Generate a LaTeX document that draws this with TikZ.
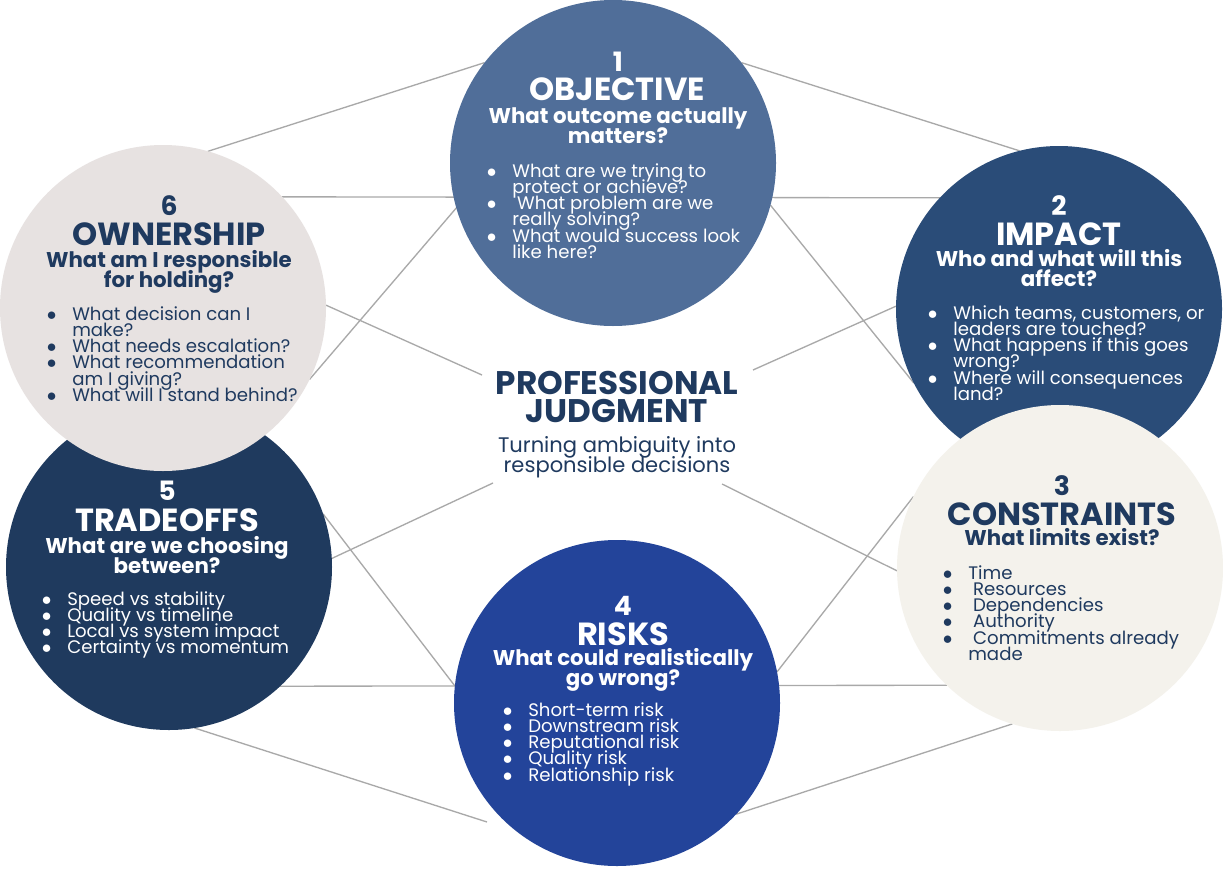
\documentclass[tikz,border=0pt]{standalone}
\usepackage{fontspec}
\setmainfont{Poppins}
\usetikzlibrary{backgrounds}

\definecolor{objblue}{HTML}{506E99}
\definecolor{impblue}{HTML}{2A4C78}
\definecolor{concream}{HTML}{F4F2EC}
\definecolor{riskblue}{HTML}{23449A}
\definecolor{tradenavy}{HTML}{1F3A5E}
\definecolor{owngray}{HTML}{E7E2E1}
\definecolor{inknavy}{HTML}{1F3A5F}
\definecolor{linegray}{HTML}{A9A9A9}

% tight lines, as in the picture
\lineskiplimit=-100pt
\lineskip=0pt

\newcommand{\bul}{\makebox[19pt][l]{$\bullet$}}
\newcommand{\cnt}{\hspace*{19pt}}

\tikzset{
  bubble/.style={circle, minimum size=244.5pt, inner sep=0pt, outer sep=0pt},
  numtxt/.style={anchor=base, inner sep=0pt, font=\fontsize{20}{22}\selectfont\bfseries},
  titletxt/.style={anchor=base, inner sep=0pt, font=\fontsize{24}{24}\selectfont\bfseries},
  asktxt/.style={anchor=north, inner sep=0pt, align=center, font=\fontsize{16}{15}\selectfont\bfseries},
  listtxt/.style={anchor=north west, inner sep=0pt, align=left, font=\fontsize{13.6}{12.2}\selectfont},
  spoke/.style={draw=linegray, line width=1pt}
}

\begin{document}
\begin{tikzpicture}[x=0.75pt, y=-0.75pt]
  \useasboundingbox (0,0) rectangle (1223,874);

  % The six circles
  \node[bubble, fill=objblue] (obj) at (613,163) {};
  \node[bubble, fill=impblue] (imp) at (1059,309) {};
  \node[bubble, fill=concream] (con) at (1060,568) {};
  \node[bubble, fill=riskblue] (risk) at (617,703) {};
  \node[bubble, fill=tradenavy] (trade) at (169,567) {};
  \node[bubble, fill=owngray] (own) at (163,308) {};

  % Free ends around the centre text
  \coordinate (hubnw) at (482,375);
  \coordinate (hubne) at (753,370);
  \coordinate (hubsw) at (493,483);
  \coordinate (hubse) at (722,484);
  \coordinate (botw) at (487,822);

  % 1 Objective
  \node[numtxt, text=white] (objnum) at (618,72) {1};
  \node[titletxt, text=white] (objtitle) at (617,100) {OBJECTIVE};
  \node[asktxt, text=white] (objask) at (618,107) {What outcome actually\\matters?};
  \node[listtxt, text=white] (objlist) at (486.7,163) {\bul What are we trying to\\ \cnt protect or achieve?\\ \bul\ What problem are we\\ \cnt really solving?\\ \bul What would success look\\ \cnt like here?};

  % 2 Impact
  \node[numtxt, text=white] (impnum) at (1059,215) {2};
  \node[titletxt, text=white] (imptitle) at (1059,245) {IMPACT};
  \node[asktxt, text=white] (impask) at (1059,249) {Who and what will this\\affect?};
  \node[listtxt, text=white] (implist) at (927.7,305) {\bul Which teams, customers, or\\ \cnt leaders are touched?\\ \bul What happens if this goes\\ \cnt wrong?\\ \bul Where will consequences\\ \cnt land?};

  % 3 Constraints
  \node[numtxt, text=inknavy] (connum) at (1062,495) {3};
  \node[titletxt, text=inknavy] (contitle) at (1062,525) {CONSTRAINTS};
  \node[asktxt, text=inknavy] (conask) at (1062,528) {What limits exist?};
  \node[listtxt, text=inknavy] (conlist) at (942.7,565) {\bul Time\\ \bul\ Resources\\ \bul\ Dependencies\\ \bul\ Authority\\ \bul\ Commitments already\\ \cnt made};

  % 4 Risks
  \node[numtxt, text=white] (risknum) at (623,615) {4};
  \node[titletxt, text=white] (risktitle) at (623,645) {RISKS};
  \node[asktxt, text=white] (riskask) at (623,648) {What could realistically\\go wrong?};
  \node[listtxt, text=white] (risklist) at (502.7,702) {\bul Short-term risk\\ \bul Downstream risk\\ \bul Reputational risk\\ \bul Quality risk\\ \bul Relationship risk};

  % 5 Tradeoffs
  \node[numtxt, text=white] (tradenum) at (167,500) {5};
  \node[titletxt, text=white] (tradetitle) at (167,531) {TRADEOFFS};
  \node[asktxt, text=white] (tradeask) at (167,536) {What are we choosing\\between?};
  \node[listtxt, text=white] (tradelist) at (41.7,591) {\bul Speed vs stability\\ \bul Quality vs timeline\\ \bul Local vs system impact\\ \bul Certainty vs momentum};

  % 6 Ownership
  \node[numtxt, text=inknavy] (ownnum) at (169,215) {6};
  \node[titletxt, text=inknavy] (owntitle) at (169,245) {OWNERSHIP};
  \node[asktxt, text=inknavy] (ownask) at (169,250) {What am I responsible\\for holding?};
  \node[listtxt, text=inknavy] (ownlist) at (46.7,306) {\bul What decision can I\\ \cnt make?\\ \bul What needs escalation?\\ \bul What recommendation\\ \cnt am I giving?\\ \bul What will I stand behind?};

  % Centre text
  \node[anchor=north, inner sep=0pt, align=center, text=inknavy, font=\fontsize{24.5}{21}\selectfont\bfseries] (hubtitle) at (617,371) {PROFESSIONAL\\JUDGMENT};
  \node[anchor=north, inner sep=0pt, align=center, text=inknavy, font=\fontsize{15.8}{15}\selectfont] (hubsub) at (617,436) {Turning ambiguity into\\responsible decisions};

  % Grey lines behind the circles
  \begin{scope}[on background layer]
    \fill[white] (0,0) rectangle (1223,874);
    \draw[spoke] (own.74) -- (obj.142);
    \draw[spoke] (obj.38) -- (imp.104);
    \draw[spoke] (own.43) -- (imp.137);
    \draw[spoke] (own.-26) -- (obj.196);
    \draw[spoke] (own.1) -- (hubnw);
    \draw[spoke] (hubne) -- (imp.179);
    \draw[spoke] (obj.-15) -- (imp.207);
    \draw[spoke] (trade.3) -- (hubsw);
    \draw[spoke] (hubse) -- (con.181);
    \draw[spoke] (trade.19) -- (risk.174);
    \draw[spoke] (trade.-47) -- (con.226);
    \draw[spoke] (risk.11) -- (con.154);
    \draw[spoke] (trade.-81) -- (botw);
    \draw[spoke] (risk.-43) -- (con.253);
  \end{scope}
\end{tikzpicture}
\end{document}
